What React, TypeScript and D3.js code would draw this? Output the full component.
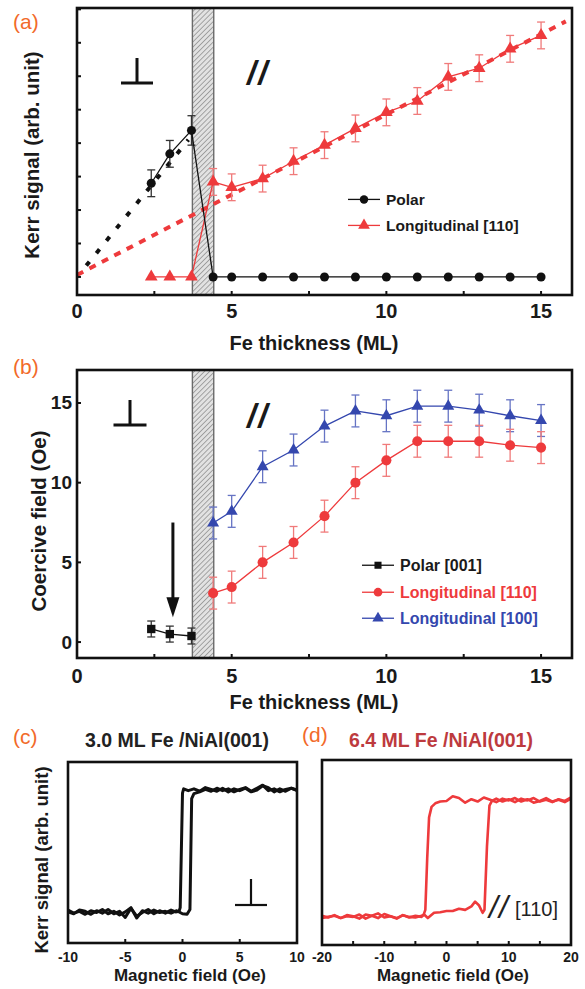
import { useEffect, useRef } from 'react';
import * as d3 from 'd3';

// ---- panel (a): Kerr signal vs Fe thickness ----
const thickA = [2.4, 3.0, 3.7, 4.4, 5, 6, 7, 8, 9, 10, 11, 12, 13, 14, 15];
const polarKerr = [1.40, 1.84, 2.19, 0, 0, 0, 0, 0, 0, 0, 0, 0, 0, 0, 0];
const polarKerrErr = [0.2, 0.2, 0.22, 0, 0, 0, 0, 0, 0, 0, 0, 0, 0, 0, 0];
const longKerr = [0, 0, 0, 1.42, 1.34, 1.47, 1.73, 1.97, 2.22, 2.46, 2.63, 2.99, 3.12, 3.41, 3.61];
const longKerrErr = [0, 0, 0, 0.2, 0.2, 0.2, 0.2, 0.2, 0.2, 0.2, 0.2, 0.2, 0.2, 0.2, 0.2];
// linear extrapolations (thickness, signal)
const polarFitX = [0.3, 3.6];
const polarFitY = [0.17, 2.05];
const longFitX = [0, 15.8];
const longFitY = [0.03, 3.82];

// ---- panel (b): coercive field vs Fe thickness ----
const thickPolarB = [2.4, 3.0, 3.7];
const polarHc = [0.82, 0.5, 0.38];
const polarHcErr = [0.5, 0.5, 0.5];
const thickB = [4.4, 5, 6, 7, 8, 9, 10, 11, 12, 13, 14, 15];
const long110Hc = [3.07, 3.45, 5.0, 6.25, 7.9, 10.0, 11.4, 12.6, 12.6, 12.6, 12.35, 12.2];
const long110Err = [1.0, 1.0, 1.0, 1.0, 1.0, 1.0, 1.0, 1.0, 1.0, 1.0, 1.0, 1.0];
const long100Hc = [7.47, 8.2, 11.0, 12.05, 13.55, 14.5, 14.2, 14.8, 14.8, 14.55, 14.2, 13.9];
const long100Err = [1.0, 1.0, 1.0, 1.0, 1.0, 1.0, 1.0, 1.0, 1.0, 1.0, 1.0, 1.0];
const transitionBand = [3.73, 4.42];
const arrowX = 3.1;
const arrowFromTo = [7.5, 1.55];

// ---- panel (c): 3.0 ML polar loop ----
const cDescH = [10, 9.5, 9, 8.5, 8, 7.5, 7, 6.5, 6, 5.5, 5, 4.5, 4, 3.5, 3, 2.5, 2, 1.5, 1, 0.5, 0.1, 0.0, -0.2, -0.3, -0.6, -1, -1.5, -2, -2.5, -3, -3.5, -4, -4.5, -5, -5.5, -6, -6.5, -7, -7.5, -8, -8.5, -9, -9.5, -10];
const cDescM = [1.0, 1.03, 0.98, 1.02, 0.97, 1.04, 1.07, 1.0, 0.97, 1.03, 0.99, 1.02, 0.97, 1.03, 0.98, 1.01, 1.04, 0.98, 1.02, 0.99, 1.02, 0.95, -0.93, -0.99, -1.0, -0.97, -1.02, -0.98, -1.03, -0.96, -1.01, -1.07, -0.94, -1.09, -0.99, -1.03, -0.96, -1.02, -0.98, -1.04, -0.99, -0.97, -1.03, -1.0];
const cAscH = [-10, -9.5, -9, -8.5, -8, -7.5, -7, -6.5, -6, -5.5, -5, -4.5, -4, -3.5, -3, -2.5, -2, -1.5, -1, -0.5, 0, 0.4, 0.65, 0.8, 1.0, 1.5, 2, 2.5, 3, 3.5, 4, 4.5, 5, 5.5, 6, 6.5, 7, 7.5, 8, 8.5, 9, 9.5, 10];
const cAscM = [-0.97, -1.02, -0.99, -1.04, -0.98, -1.01, -0.96, -1.03, -0.99, -1.05, -1.0, -0.93, -1.1, -0.98, -1.02, -0.97, -1.01, -0.99, -1.02, -0.98, -1.03, -1.04, -0.96, 0.86, 0.94, 0.97, 1.01, 0.98, 1.03, 0.99, 1.02, 0.97, 1.01, 1.04, 0.98, 1.03, 1.08, 0.99, 1.02, 0.97, 1.01, 1.03, 0.99];

// ---- panel (d): 6.4 ML longitudinal loop ----
const dDescH = [20, 19, 18, 17, 16, 15, 14, 13, 12, 11, 10, 9, 8, 7, 6, 5, 4, 3, 2, 1, 0, -1, -1.8, -2.4, -2.8, -3.1, -3.4, -3.7, -4, -5, -6, -7, -8, -9, -10, -11, -12, -13, -14, -15, -16, -17, -18, -19, -20];
const dDescM = [1.02, 0.96, 1.0, 0.97, 1.03, 0.98, 0.95, 1.01, 0.97, 1.03, 0.99, 1.02, 0.96, 1.0, 1.04, 0.97, 1.01, 0.95, 1.03, 1.06, 0.98, 0.97, 0.94, 0.88, 0.7, 0.0, -0.88, -0.97, -1.0, -0.98, -1.01, -0.97, -1.03, -0.99, -0.95, -1.02, -0.98, -0.96, -1.03, -0.99, -0.97, -1.02, -0.98, -1.0, -1.02];
const dAscH = [-20, -19, -18, -17, -16, -15, -14, -13, -12, -11, -10, -9, -8, -7, -6, -5, -4, -3.6, -3, -2, -1, 0, 1, 2, 3, 4, 4.6, 5.2, 5.8, 6.1, 6.5, 6.9, 7.3, 8, 9, 10, 11, 12, 13, 14, 15, 16, 17, 18, 19, 20];
const dAscM = [-0.98, -1.01, -0.97, -1.02, -0.99, -1.0, -0.96, -1.03, -0.98, -0.94, -1.01, -0.99, -1.02, -0.97, -1.0, -1.01, -0.98, -0.96, -1.02, -0.93, -0.92, -0.9, -0.9, -0.86, -0.88, -0.82, -0.74, -0.8, -0.93, -0.88, 0.2, 0.9, 0.98, 1.02, 0.97, 1.01, 0.96, 1.02, 0.99, 1.03, 0.97, 1.0, 0.96, 1.01, 0.98, 1.04];

const RED = '#ee3a3c';
const RED_ERR = '#f07a7a';
const BLUE = '#3447ae';
const BLUE_ERR = '#6674c4';
const ORANGE = '#f26a2a';
const FONT = '"Liberation Sans", Arial, Helvetica, sans-serif';

const App = () => {
  const svgRef = useRef<SVGSVGElement>(null);

  useEffect(() => {
    if (!svgRef.current) return;
    const svg = d3.select(svgRef.current);
    svg.selectAll('*').remove();

    const defs = svg.append('defs');
    const pat = defs.append('pattern')
      .attr('id', 'hatch')
      .attr('patternUnits', 'userSpaceOnUse')
      .attr('width', 3.6)
      .attr('height', 3.6)
      .attr('patternTransform', 'rotate(45)');
    pat.append('rect').attr('width', 3.6).attr('height', 3.6).attr('fill', '#e2e2e2');
    pat.append('line').attr('x1', 0).attr('y1', 0).attr('x2', 0).attr('y2', 3.6)
      .attr('stroke', '#808080').attr('stroke-width', 1.3);

    const text = (x: number, y: number, s: string, size: number, opts: any = {}) => {
      const t = svg.append('text')
        .attr('x', x)
        .attr('y', y)
        .attr('font-family', FONT)
        .attr('font-size', size)
        .attr('font-weight', opts.weight || 'bold')
        .attr('fill', opts.fill || '#1a1a1a')
        .attr('text-anchor', opts.anchor || 'start')
        .text(s);
      if (opts.style) t.attr('font-style', opts.style);
      if (opts.spacing) t.attr('letter-spacing', opts.spacing);
      if (opts.rotate) t.attr('transform', `rotate(-90,${x},${y})`).attr('dominant-baseline', 'central');
      if (opts.baseline) t.attr('dominant-baseline', opts.baseline);
      return t;
    };

    const frame = (x: d3.ScaleLinear<number, number>, y: d3.ScaleLinear<number, number>) => {
      const [x0, x1] = x.range();
      const [y0, y1] = y.range();
      svg.append('rect')
        .attr('x', x0).attr('y', y1)
        .attr('width', x1 - x0).attr('height', y0 - y1)
        .attr('fill', 'none').attr('stroke', '#111').attr('stroke-width', 2.6);
    };

    const xTicksIn = (x: d3.ScaleLinear<number, number>, y: d3.ScaleLinear<number, number>, ticks: number[]) => {
      const yb = y.range()[0];
      svg.append('g').selectAll('line').data(ticks).join('line')
        .attr('x1', d => x(d)).attr('x2', d => x(d))
        .attr('y1', yb).attr('y2', yb - 4)
        .attr('stroke', '#111').attr('stroke-width', 2);
    };
    const yTicksIn = (x: d3.ScaleLinear<number, number>, y: d3.ScaleLinear<number, number>, ticks: number[]) => {
      const xl = x.range()[0];
      svg.append('g').selectAll('line').data(ticks).join('line')
        .attr('x1', xl).attr('x2', xl + 4)
        .attr('y1', d => y(d)).attr('y2', d => y(d))
        .attr('stroke', '#111').attr('stroke-width', 2);
    };

    const band = (x: d3.ScaleLinear<number, number>, y: d3.ScaleLinear<number, number>) => {
      const [y0, y1] = y.range();
      svg.append('rect')
        .attr('x', x(transitionBand[0])).attr('y', y1)
        .attr('width', x(transitionBand[1]) - x(transitionBand[0]))
        .attr('height', y0 - y1)
        .attr('fill', 'url(#hatch)');
      transitionBand.forEach(b => {
        svg.append('line')
          .attr('x1', x(b)).attr('x2', x(b)).attr('y1', y1).attr('y2', y0)
          .attr('stroke', '#6a6a6a').attr('stroke-width', 1.4);
      });
    };

    const errorBars = (x: d3.ScaleLinear<number, number>, y: d3.ScaleLinear<number, number>,
      xs: number[], ys: number[], es: number[], color: string) => {
      const g = svg.append('g').attr('stroke', color).attr('stroke-width', 1.3).attr('fill', 'none');
      xs.forEach((xv, i) => {
        if (!es[i]) return;
        const cx = x(xv);
        const top = y(ys[i] + es[i]);
        const bot = y(ys[i] - es[i]);
        g.append('line').attr('x1', cx).attr('x2', cx).attr('y1', top).attr('y2', bot);
        g.append('line').attr('x1', cx - 4).attr('x2', cx + 4).attr('y1', top).attr('y2', top);
        g.append('line').attr('x1', cx - 4).attr('x2', cx + 4).attr('y1', bot).attr('y2', bot);
      });
    };

    const series = (x: d3.ScaleLinear<number, number>, y: d3.ScaleLinear<number, number>,
      xs: number[], ys: number[], color: string, symbol: d3.SymbolType, size: number) => {
      const line = d3.line<number>().x((_, i) => x(xs[i])).y(d => y(d));
      svg.append('path').attr('d', line(ys)).attr('fill', 'none')
        .attr('stroke', color).attr('stroke-width', 1.3);
      svg.append('g').selectAll('path').data(ys).join('path')
        .attr('transform', (d, i) => `translate(${x(xs[i])},${y(d)})`)
        .attr('d', d3.symbol().type(symbol).size(size)())
        .attr('fill', color);
    };

    const legendItem = (x0: number, yb: number, label: string, color: string, textColor: string,
      symbol: d3.SymbolType, size: number, fs: number) => {
      const cy = yb - fs * 0.36;
      svg.append('line').attr('x1', x0).attr('x2', x0 + 32).attr('y1', cy).attr('y2', cy)
        .attr('stroke', color).attr('stroke-width', 1.3);
      svg.append('path').attr('transform', `translate(${x0 + 16},${cy})`)
        .attr('d', d3.symbol().type(symbol).size(size)()).attr('fill', color);
      text(x0 + 38, yb, label, fs, { fill: textColor });
    };

    const perp = (cx: number, baseY: number, w: number, h: number, sw: number) => {
      const g = svg.append('g').attr('stroke', '#111').attr('stroke-width', sw);
      g.append('line').attr('x1', cx).attr('x2', cx).attr('y1', baseY - h).attr('y2', baseY);
      g.append('line').attr('x1', cx - w / 2).attr('x2', cx + w / 2).attr('y1', baseY).attr('y2', baseY);
    };

    // ================= (a) =================
    const xA = d3.scaleLinear().domain([0, 16]).range([77, 572]);
    const yA = d3.scaleLinear().domain([-0.27, 4.02]).range([295, 8]);

    band(xA, yA);

    svg.append('path')
      .attr('d', d3.line<number>().x(d => xA(d)).y((_, i) => yA(longFitY[i]))(longFitX))
      .attr('stroke', RED).attr('stroke-width', 4).attr('stroke-dasharray', '7,7').attr('fill', 'none');
    svg.append('path')
      .attr('d', d3.line<number>().x(d => xA(d)).y((_, i) => yA(polarFitY[i]))(polarFitX))
      .attr('stroke', '#111').attr('stroke-width', 4).attr('stroke-dasharray', '5,11').attr('fill', 'none');

    errorBars(xA, yA, thickA, longKerr, longKerrErr, RED_ERR);
    errorBars(xA, yA, thickA, polarKerr, polarKerrErr, '#333');
    series(xA, yA, thickA, longKerr, RED, d3.symbolTriangle, 70);
    series(xA, yA, thickA, polarKerr, '#111', d3.symbolCircle, 64);

    frame(xA, yA);
    xTicksIn(xA, yA, d3.range(0, 16, 2.5));
    yTicksIn(xA, yA, d3.range(0, 4.01, 0.5));
    [0, 5, 10, 15].forEach(v => text(xA(v), 318, String(v), 20, { anchor: 'middle' }));
    text(314, 350, 'Fe thickness (ML)', 20, { anchor: 'middle' });
    text(31, 155, 'Kerr signal (arb. unit)', 20.5, { anchor: 'middle', rotate: true });
    text(13, 29, '(a)', 21, { weight: 'normal', fill: ORANGE });
    perp(137, 83, 32, 25, 3);
    text(247, 84, '//', 33, { style: 'italic', spacing: 2 });

    legendItem(348, 205, 'Polar', '#111', '#1a1a1a', d3.symbolCircle, 56, 15.5);
    legendItem(348, 231, 'Longitudinal [110]', RED, '#1a1a1a', d3.symbolTriangle, 60, 15.5);

    // ================= (b) =================
    const xB = d3.scaleLinear().domain([0, 16]).range([77, 572]);
    const yB = d3.scaleLinear().domain([-1, 17.07]).range([658, 370]);

    band(xB, yB);
    errorBars(xB, yB, thickB, long100Hc, long100Err, BLUE_ERR);
    errorBars(xB, yB, thickB, long110Hc, long110Err, RED_ERR);
    errorBars(xB, yB, thickPolarB, polarHc, polarHcErr, '#333');
    series(xB, yB, thickB, long100Hc, BLUE, d3.symbolTriangle, 62);
    series(xB, yB, thickB, long110Hc, RED, d3.symbolCircle, 80);
    series(xB, yB, thickPolarB, polarHc, '#111', d3.symbolSquare, 70);

    // arrow
    const ax = xB(arrowX);
    svg.append('line').attr('x1', ax).attr('x2', ax)
      .attr('y1', yB(arrowFromTo[0])).attr('y2', yB(arrowFromTo[1]) - 16)
      .attr('stroke', '#111').attr('stroke-width', 3);
    svg.append('path')
      .attr('d', `M${ax - 6.5},${yB(arrowFromTo[1]) - 20} L${ax + 6.5},${yB(arrowFromTo[1]) - 20} L${ax},${yB(arrowFromTo[1])} Z`)
      .attr('fill', '#111');

    frame(xB, yB);
    xTicksIn(xB, yB, d3.range(0, 16, 2.5));
    yTicksIn(xB, yB, [0, 5, 10, 15]);
    [0, 5, 10, 15].forEach(v => text(xB(v), 683, String(v), 20, { anchor: 'middle' }));
    [0, 5, 10, 15].forEach(v => text(72, yB(v), String(v), 19, { anchor: 'end', baseline: 'central' }));
    text(314, 709, 'Fe thickness (ML)', 20, { anchor: 'middle' });
    text(38, 521, 'Coercive field (Oe)', 20.5, { anchor: 'middle', rotate: true });
    text(13, 374, '(b)', 21, { weight: 'normal', fill: ORANGE });
    perp(130, 425, 33, 25, 3);
    text(247, 427, '//', 33, { style: 'italic', spacing: 2 });

    legendItem(362, 571, 'Polar [001]', '#111', '#1a1a1a', d3.symbolSquare, 50, 16);
    legendItem(362, 598, 'Longitudinal [110]', RED, RED, d3.symbolCircle, 60, 16);
    legendItem(362, 624, 'Longitudinal [100]', BLUE, BLUE, d3.symbolTriangle, 56, 16);

    // ================= (c) =================
    const xC = d3.scaleLinear().domain([-10, 10]).range([68, 297]);
    const yC = d3.scaleLinear().domain([-1.51, 1.46]).range([943, 762]);
    svg.append('path')
      .attr('d', d3.line<number>().x(d => xC(d)).y((_, i) => yC(cDescM[i]))(cDescH))
      .attr('fill', 'none').attr('stroke', '#111').attr('stroke-width', 3).attr('stroke-linejoin', 'round');
    svg.append('path')
      .attr('d', d3.line<number>().x(d => xC(d)).y((_, i) => yC(cAscM[i]))(cAscH))
      .attr('fill', 'none').attr('stroke', '#111').attr('stroke-width', 3).attr('stroke-linejoin', 'round');
    frame(xC, yC);
    xTicksIn(xC, yC, [-10, -5, 0, 5, 10]);
    [-10, -5, 0, 5, 10].forEach(v => text(xC(v), 962, String(v), 14, { anchor: 'middle' }));
    text(190, 981, 'Magnetic field (Oe)', 17, { anchor: 'middle' });
    text(41, 860, 'Kerr signal (arb. unit)', 18.5, { anchor: 'middle', rotate: true });
    text(13, 744, '(c)', 21, { weight: 'normal', fill: ORANGE });
    text(177, 747, '3.0 ML Fe /NiAl(001)', 19.5, { anchor: 'middle', fill: '#222' });
    perp(251, 905, 32, 26, 2.2);

    // ================= (d) =================
    const xD = d3.scaleLinear().domain([-20, 20]).range([322, 571]);
    const yD = d3.scaleLinear().domain([-1.48, 1.68]).range([945, 760]);
    svg.append('path')
      .attr('d', d3.line<number>().x(d => xD(d)).y((_, i) => yD(dDescM[i]))(dDescH))
      .attr('fill', 'none').attr('stroke', RED).attr('stroke-width', 2.6).attr('stroke-linejoin', 'round');
    svg.append('path')
      .attr('d', d3.line<number>().x(d => xD(d)).y((_, i) => yD(dAscM[i]))(dAscH))
      .attr('fill', 'none').attr('stroke', RED).attr('stroke-width', 2.6).attr('stroke-linejoin', 'round');
    frame(xD, yD);
    xTicksIn(xD, yD, [-20, -15, -10, -5, 0, 5, 10, 15, 20]);
    [-20, -10, 0, 10, 20].forEach(v => text(xD(v), 962, String(v), 14, { anchor: 'middle' }));
    text(453, 981, 'Magnetic field (Oe)', 17, { anchor: 'middle' });
    text(302, 742, '(d)', 21, { weight: 'normal', fill: ORANGE });
    text(441, 747, '6.4 ML Fe /NiAl(001)', 19.5, { anchor: 'middle', fill: '#bd3a3e' });
    text(489, 918, '//', 32, { style: 'italic', weight: 'normal', fill: '#222', spacing: 1 });
    text(515, 916, '[110]', 20, { weight: 'normal', fill: '#222' });
  }, []);

  return (
    <svg
      ref={svgRef}
      width={585}
      height={989}
      viewBox="0 0 585 989"
      style={{ position: 'absolute', left: 0, top: 0, background: '#fff' }}
    />
  );
};

export default App;
